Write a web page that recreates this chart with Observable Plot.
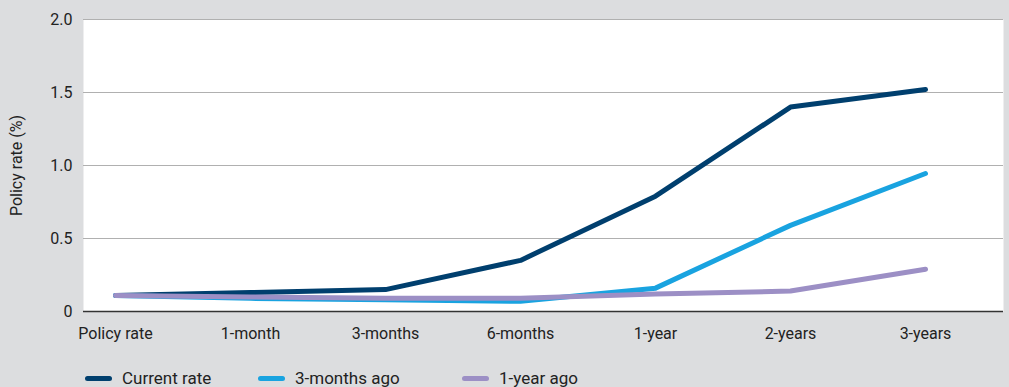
<!DOCTYPE html>
<html>
<head>
<meta charset="utf-8">
<script src="https://cdn.jsdelivr.net/npm/d3@7"></script>
<script src="https://cdn.jsdelivr.net/npm/@observablehq/plot@0.6"></script>
<style>
  html, body { margin: 0; padding: 0; background: #dcdddf; width: 1009px; height: 387px; overflow: hidden; }
  body { font-family: Roboto, sans-serif; color: #222; position: relative; }
  #legend { position: absolute; left: 0; top: 366px; width: 1009px; height: 24px; font-size: 17px; }
  .item { position: absolute; top: 0; display: flex; align-items: center; height: 24px; }
  .sw { width: 27px; height: 5px; border-radius: 3px; margin-right: 10px; }
</style>
</head>
<body>
<div id="chart"></div>
<div id="legend"></div>
<script>
const tenors = ["Policy rate", "1-month", "3-months", "6-months", "1-year", "2-years", "3-years"];
const seriesNames = ["Current rate", "3-months ago", "1-year ago"];
const seriesColors = ["#003f6e", "#19a3e0", "#9c8fc5"];
const currentRate = [0.11, 0.13, 0.15, 0.35, 0.79, 1.40, 1.52];
const threeMonthsAgo = [0.11, 0.09, 0.08, 0.07, 0.16, 0.59, 0.945];
const oneYearAgo = [0.11, 0.10, 0.09, 0.09, 0.12, 0.14, 0.29];
const yTicks = [0, 0.5, 1.0, 1.5, 2.0];

const seriesValues = [currentRate, threeMonthsAgo, oneYearAgo];
const data = [];
seriesNames.forEach((s, i) => tenors.forEach((t, j) => data.push({series: s, tenor: t, value: seriesValues[i][j]})));

const chart = Plot.plot({
  width: 1009,
  height: 352,
  marginLeft: 83,
  marginRight: 6,
  marginTop: 19,
  marginBottom: 41,
  style: {fontFamily: "Roboto, sans-serif", fontSize: "16px", color: "#222", background: "transparent"},
  x: {type: "point", domain: tenors, padding: 0, insetLeft: 30, insetRight: 76, label: null},
  y: {domain: [0, 2], label: null},
  color: {domain: seriesNames, range: seriesColors},
  marks: [
    Plot.frame({fill: "white", stroke: null}),
    Plot.ruleY(yTicks.filter(d => d > 0), {stroke: "#b0b0b0", strokeWidth: 1.2}),
    Plot.ruleY([0], {stroke: "#333", strokeWidth: 1.6}),
    Plot.axisY({ticks: yTicks, tickSize: 0, tickPadding: 11, tickFormat: d => d === 0 ? "0" : d.toFixed(1), fontSize: 16,
      label: "Policy rate (%)", labelAnchor: "center", labelArrow: "none", labelOffset: 73}),
    Plot.axisX({tickSize: 0, tickPadding: 16, fontSize: 16, label: null}),
    Plot.line(data, {x: "tenor", y: "value", z: "series", stroke: "series", strokeWidth: 5, strokeLinecap: "round", strokeLinejoin: "round"})
  ]
});
document.getElementById("chart").appendChild(chart);

const legend = document.getElementById("legend");
const lefts = [85, 258, 462];
seriesNames.forEach((s, i) => {
  const it = document.createElement("div");
  it.className = "item";
  it.style.left = lefts[i] + "px";
  const sw = document.createElement("div");
  sw.className = "sw";
  sw.style.background = seriesColors[i];
  const tx = document.createElement("span");
  tx.textContent = s;
  it.appendChild(sw); it.appendChild(tx);
  legend.appendChild(it);
});
</script>
</body>
</html>
